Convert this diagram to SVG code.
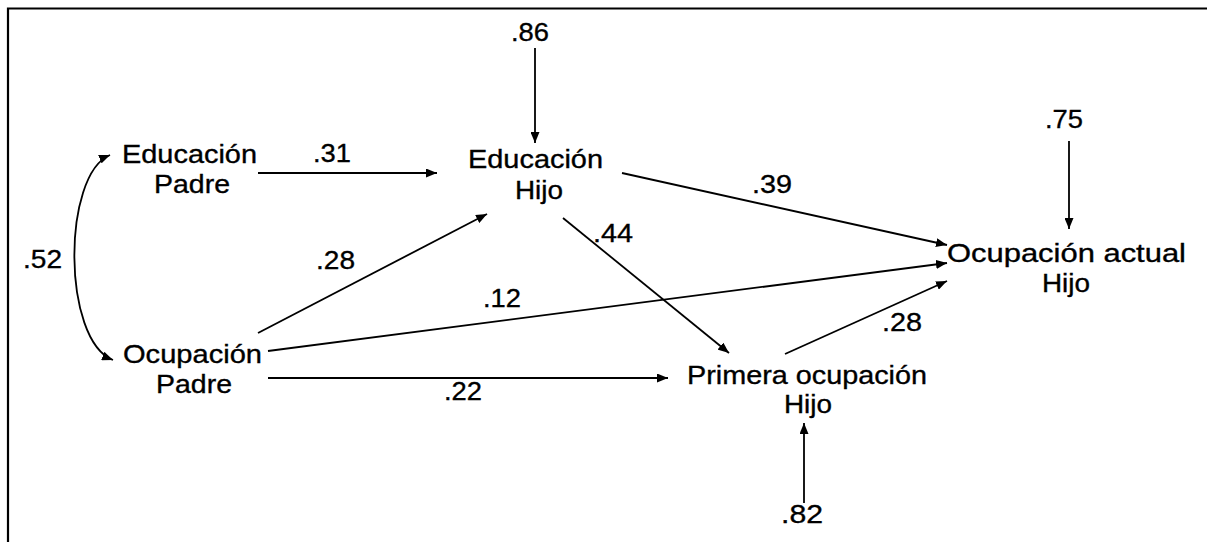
<svg xmlns="http://www.w3.org/2000/svg" width="1207" height="542" viewBox="0 0 1207 542">
<style>
text{font-family:"Liberation Sans",Arial,sans-serif;font-size:26.5px;fill:#000;stroke:#000;stroke-width:0.35}
.c{fill:none;stroke:#000;stroke-width:1.8}
</style>
<defs>
<marker id="ah" viewBox="0 0 11 9" refX="11" refY="4.5" markerWidth="11" markerHeight="9" markerUnits="userSpaceOnUse" orient="auto-start-reverse">
<path d="M0,0 L11,4.5 L0,9 Z" fill="#000"/>
</marker>
</defs>
<rect width="1207" height="542" fill="#fff"/>
<path d="M8,545 V8.5 H1210" fill="none" stroke="#000" stroke-width="2.2"/>
<g id="connectors">
<path class="c" d="M110,155 C62,175 62,340 113,360" marker-start="url(#ah)" marker-end="url(#ah)"/>
<line class="c" x1="535" y1="48" x2="535" y2="143" marker-end="url(#ah)"/>
<line class="c" x1="1069" y1="141" x2="1069" y2="229" marker-end="url(#ah)"/>
<line class="c" x1="804" y1="503" x2="804" y2="423" marker-end="url(#ah)"/>
<line class="c" x1="258" y1="173" x2="437" y2="173" marker-end="url(#ah)"/>
<line class="c" x1="258" y1="333" x2="487" y2="214" marker-end="url(#ah)"/>
<line class="c" x1="268" y1="351" x2="947" y2="263" marker-end="url(#ah)"/>
<line class="c" x1="268" y1="378" x2="668" y2="378" marker-end="url(#ah)"/>
<line class="c" x1="622" y1="173" x2="947" y2="245" marker-end="url(#ah)"/>
<line class="c" x1="563" y1="218" x2="729" y2="353" marker-end="url(#ah)"/>
<line class="c" x1="785" y1="354" x2="947" y2="281" marker-end="url(#ah)"/>
</g>
<g id="labels">
<text x="23" y="268" textLength="39" lengthAdjust="spacingAndGlyphs">.52</text>
<text x="511" y="41" textLength="38" lengthAdjust="spacingAndGlyphs">.86</text>
<text x="1045" y="128" textLength="38" lengthAdjust="spacingAndGlyphs">.75</text>
<text x="781" y="523" textLength="42" lengthAdjust="spacingAndGlyphs">.82</text>
<text x="313" y="162" textLength="38" lengthAdjust="spacingAndGlyphs">.31</text>
<text x="316" y="269" textLength="39" lengthAdjust="spacingAndGlyphs">.28</text>
<text x="483" y="307" textLength="38" lengthAdjust="spacingAndGlyphs">.12</text>
<text x="444" y="400" textLength="38" lengthAdjust="spacingAndGlyphs">.22</text>
<text x="752" y="193" textLength="40" lengthAdjust="spacingAndGlyphs">.39</text>
<text x="593" y="242" textLength="40" lengthAdjust="spacingAndGlyphs">.44</text>
<text x="882" y="331" textLength="40" lengthAdjust="spacingAndGlyphs">.28</text>
</g>
<g id="educacion-padre">
<text x="122" y="163" textLength="135" lengthAdjust="spacingAndGlyphs">Educación</text>
<text x="154" y="193" textLength="76" lengthAdjust="spacingAndGlyphs">Padre</text>
</g>
<g id="ocupacion-padre">
<text x="123" y="363" textLength="139" lengthAdjust="spacingAndGlyphs">Ocupación</text>
<text x="156" y="393" textLength="76" lengthAdjust="spacingAndGlyphs">Padre</text>
</g>
<g id="educacion-hijo">
<text x="468" y="168" textLength="135" lengthAdjust="spacingAndGlyphs">Educación</text>
<text x="515" y="199" textLength="48" lengthAdjust="spacingAndGlyphs">Hijo</text>
</g>
<g id="ocupacion-actual-hijo">
<text x="947" y="262" textLength="239" lengthAdjust="spacingAndGlyphs">Ocupación actual</text>
<text x="1042" y="292" textLength="48" lengthAdjust="spacingAndGlyphs">Hijo</text>
</g>
<g id="primera-ocupacion-hijo">
<text x="687" y="384" textLength="240" lengthAdjust="spacingAndGlyphs">Primera ocupación</text>
<text x="784" y="413" textLength="48" lengthAdjust="spacingAndGlyphs">Hijo</text>
</g>
</svg>
